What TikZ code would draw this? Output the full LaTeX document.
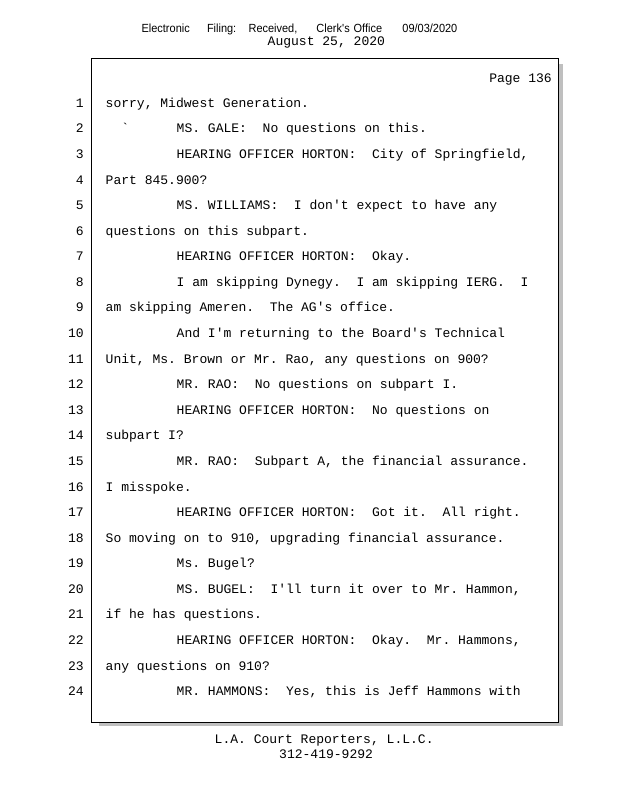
\documentclass[tikz,border=0pt]{standalone}
\usepackage{fontspec}
\newfontfamily\monof{Liberation Mono}
\newfontfamily\hdrf{Liberation Sans}[FakeStretch=0.93]
\begin{document}
\begin{tikzpicture}[x=1pt,y=-1pt,
  tx/.style={inner sep=0pt,anchor=base west,font=\monof\fontsize{13.03}{15}\selectfont\frenchspacing},
  txr/.style={tx,anchor=base east},
  hd/.style={inner sep=0pt,anchor=base west,font=\hdrf\fontsize{11.8}{13}\selectfont},
  lnum/.style={txr}]
\useasboundingbox (0,0) rectangle (618,800);
\fill[white] (0,0) rectangle (618,800);
% header
\node[hd] (h1) at (141.4,32.8) {Electronic};
\node[hd] (h2) at (206.8,32.8) {Filing:};
\node[hd] (h3) at (248.4,32.8) {Received,};
\node[hd] (h4) at (316.2,32.8) {Clerk\textquotesingle s};
\node[hd] (h5) at (353.5,32.8) {Office};
\node[hd] (h6) at (402.2,32.8) {09/03/2020};
\node[tx] (date) at (267.5,45.3) {August 25, 2020};
% page box with shadow
\fill[black!25] (99,64) rectangle (563,726);
\draw[line width=1.8pt,fill=white] (91.5,58.5) rectangle (558.5,722.5);
\node[txr] (page) at (552,82.7) {Page 136};
% line numbers
\foreach \n in {1,...,24}{
  \node[lnum] (n\n) at (84,{107.3+(\n-1)*25.58}) {\n};
}
\def\L{105.5}
\def\I{176.5}
\node[tx] (l1) at (\L,107.3) {sorry, Midwest Generation.};
\node[tx] (l2a) at (121.1,{107.3+1*25.58}) {\textasciigrave};
\node[tx] (l2) at (\I,{107.3+1*25.58}) {MS. GALE:~ No questions on this.};
\node[tx] (l3) at (\I,{107.3+2*25.58}) {HEARING OFFICER HORTON:~ City of Springfield,};
\node[tx] (l4) at (\L,{107.3+3*25.58}) {Part 845.900?};
\node[tx] (l5) at (\I,{107.3+4*25.58}) {MS. WILLIAMS:~ I don\textquotesingle t expect to have any};
\node[tx] (l6) at (\L,{107.3+5*25.58}) {questions on this subpart.};
\node[tx] (l7) at (\I,{107.3+6*25.58}) {HEARING OFFICER HORTON:~ Okay.};
\node[tx] (l8) at (\I,{107.3+7*25.58}) {I am skipping Dynegy.~ I am skipping IERG.~ I};
\node[tx] (l9) at (\L,{107.3+8*25.58}) {am skipping Ameren.~ The AG\textquotesingle s office.};
\node[tx] (l10) at (\I,{107.3+9*25.58}) {And I\textquotesingle m returning to the Board\textquotesingle s Technical};
\node[tx] (l11) at (\L,{107.3+10*25.58}) {Unit, Ms. Brown or Mr. Rao, any questions on 900?};
\node[tx] (l12) at (\I,{107.3+11*25.58}) {MR. RAO:~ No questions on subpart I.};
\node[tx] (l13) at (\I,{107.3+12*25.58}) {HEARING OFFICER HORTON:~ No questions on};
\node[tx] (l14) at (\L,{107.3+13*25.58}) {subpart I?};
\node[tx] (l15) at (\I,{107.3+14*25.58}) {MR. RAO:~ Subpart A, the financial assurance.};
\node[tx] (l16) at (\L,{107.3+15*25.58}) {I misspoke.};
\node[tx] (l17) at (\I,{107.3+16*25.58}) {HEARING OFFICER HORTON:~ Got it.~ All right.};
\node[tx] (l18) at (\L,{107.3+17*25.58}) {So moving on to 910, upgrading financial assurance.};
\node[tx] (l19) at (\I,{107.3+18*25.58}) {Ms. Bugel?};
\node[tx] (l20) at (\I,{107.3+19*25.58}) {MS. BUGEL:~ I\textquotesingle ll turn it over to Mr. Hammon,};
\node[tx] (l21) at (\L,{107.3+20*25.58}) {if he has questions.};
\node[tx] (l22) at (\I,{107.3+21*25.58}) {HEARING OFFICER HORTON:~ Okay.~ Mr. Hammons,};
\node[tx] (l23) at (\L,{107.3+22*25.58}) {any questions on 910?};
\node[tx] (l24) at (\I,{107.3+23*25.58}) {MR. HAMMONS:~ Yes, this is Jeff Hammons with};
% footer
\node[tx] (f1) at (214.5,743.3) {L.A. Court Reporters, L.L.C.};
\node[tx] (f2) at (279,758.3) {312-419-9292};
\end{tikzpicture}
\end{document}
